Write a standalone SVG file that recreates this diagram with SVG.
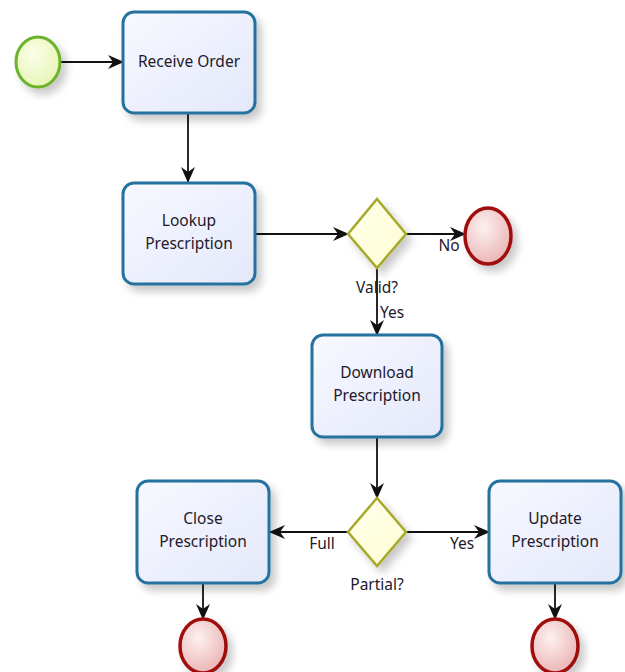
<svg xmlns="http://www.w3.org/2000/svg" width="625" height="672" viewBox="0 0 625 672">
  <defs>
    <linearGradient id="taskFill" x1="0" y1="0" x2="1" y2="1">
      <stop offset="0" stop-color="#f8f9ff"/>
      <stop offset="1" stop-color="#e3e8fa"/>
    </linearGradient>
    <radialGradient id="startFill" cx="0.4" cy="0.35" r="0.7">
      <stop offset="0" stop-color="#fbfee8"/>
      <stop offset="1" stop-color="#e6f5b4"/>
    </radialGradient>
    <radialGradient id="endFill" cx="0.4" cy="0.35" r="0.7">
      <stop offset="0" stop-color="#fdf0f0"/>
      <stop offset="1" stop-color="#eab3b3"/>
    </radialGradient>
    <linearGradient id="gateFill" x1="0" y1="0" x2="1" y2="1">
      <stop offset="0" stop-color="#ffffee"/>
      <stop offset="1" stop-color="#fdfdd0"/>
    </linearGradient>
    <filter id="shadow" x="-20%" y="-20%" width="150%" height="150%">
      <feGaussianBlur in="SourceAlpha" stdDeviation="4"/>
      <feOffset dx="5" dy="6" result="blur"/>
      <feComponentTransfer><feFuncA type="linear" slope="0.22"/></feComponentTransfer>
      <feMerge><feMergeNode/><feMergeNode in="SourceGraphic"/></feMerge>
    </filter>
    <marker id="arrow" viewBox="0 0 16 16" refX="15" refY="8" markerWidth="16" markerHeight="16" markerUnits="userSpaceOnUse" orient="auto">
      <path d="M0,1 L16,8 L0,15 L5,8 Z" fill="#111"/>
    </marker>
  </defs>
  <style>
    .task { fill: url(#taskFill); stroke: #26729f; stroke-width: 3; filter: url(#shadow); }
    .start { fill: url(#startFill); stroke: #6ab32a; stroke-width: 3; filter: url(#shadow); }
    .end { fill: url(#endFill); stroke: #a00d0d; stroke-width: 3.5; filter: url(#shadow); }
    .gate { fill: url(#gateFill); stroke: #a8a82a; stroke-width: 2.5; filter: url(#shadow); }
    .flow { fill: none; stroke: #111; stroke-width: 1.8; marker-end: url(#arrow); }
    text { font-family: "Noto Sans", "Open Sans", "Liberation Sans", sans-serif; font-size: 15.5px; fill: #24182c; text-anchor: middle; }
  </style>

  <g id="connectors">
    <path class="flow" d="M60,62 H123"/>
    <path class="flow" d="M188,114 V182"/>
    <path class="flow" d="M256,234 H348"/>
    <path class="flow" d="M406,234 H465"/>
    <path class="flow" d="M377,268 V335"/>
    <path class="flow" d="M377,438 V498"/>
    <path class="flow" d="M348,532 H270"/>
    <path class="flow" d="M406,532 H489"/>
    <path class="flow" d="M203,584 V619"/>
    <path class="flow" d="M555,584 V619"/>
    <text x="449" y="251">No</text>
    <text x="392" y="318">Yes</text>
    <text x="322" y="549">Full</text>
    <text x="462" y="549">Yes</text>
  </g>

  <g id="start">
    <ellipse class="start" cx="38" cy="62" rx="22" ry="25"/>
  </g>

  <g id="receive-order">
    <rect class="task" x="123" y="12" width="132" height="101" rx="11"/>
    <text x="189" y="67">Receive Order</text>
  </g>

  <g id="lookup-prescription">
    <rect class="task" x="123" y="183" width="132" height="101" rx="11"/>
    <text x="189" y="226">Lookup</text>
    <text x="189" y="249">Prescription</text>
  </g>

  <g id="valid-gateway">
    <polygon class="gate" points="377,199 406,234 377,268 348,234"/>
    <text x="377" y="293">Valid?</text>
  </g>

  <g id="end-invalid">
    <ellipse class="end" cx="488" cy="236" rx="23" ry="28"/>
  </g>

  <g id="download-prescription">
    <rect class="task" x="312" y="335" width="130" height="102" rx="11"/>
    <text x="377" y="378">Download</text>
    <text x="377" y="401">Prescription</text>
  </g>

  <g id="partial-gateway">
    <polygon class="gate" points="377,498 406,532 377,566 348,532"/>
    <text x="377" y="590">Partial?</text>
  </g>

  <g id="close-prescription">
    <rect class="task" x="137" y="481" width="132" height="102" rx="11"/>
    <text x="203" y="524">Close</text>
    <text x="203" y="547">Prescription</text>
  </g>

  <g id="update-prescription">
    <rect class="task" x="489" y="481" width="132" height="102" rx="11"/>
    <text x="555" y="524">Update</text>
    <text x="555" y="547">Prescription</text>
  </g>

  <g id="end-closed">
    <ellipse class="end" cx="203" cy="646" rx="23" ry="27"/>
  </g>

  <g id="end-updated">
    <ellipse class="end" cx="555" cy="646" rx="23" ry="27"/>
  </g>
</svg>
